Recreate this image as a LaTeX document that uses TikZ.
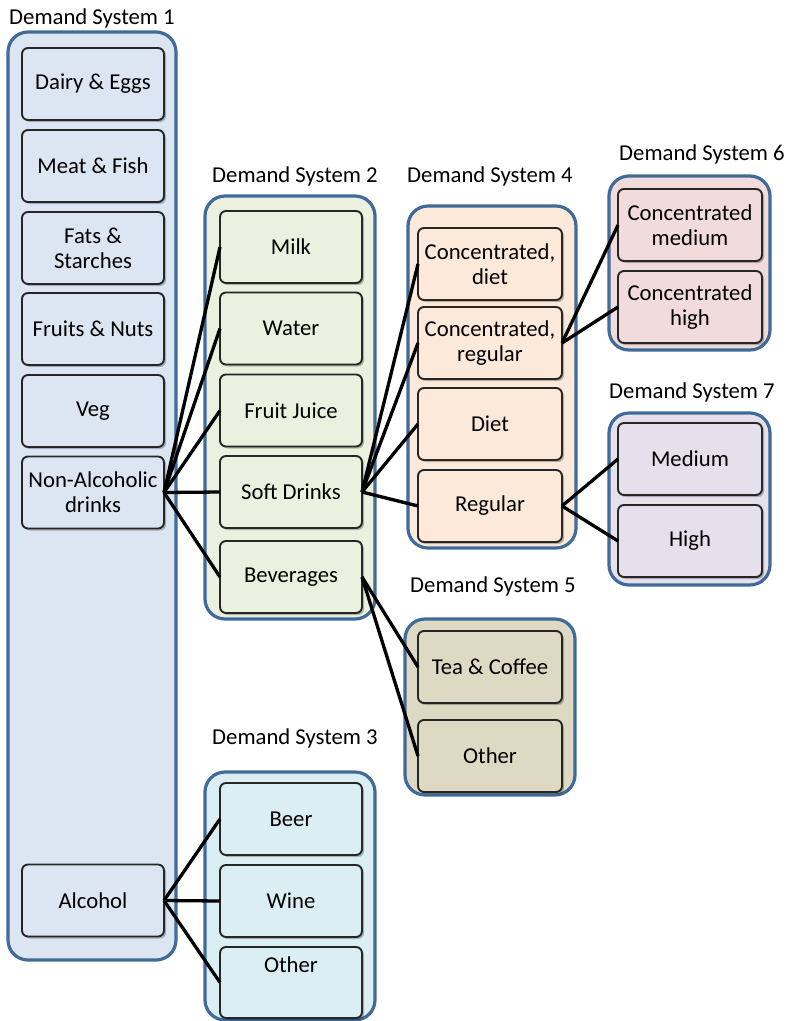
\documentclass[tikz,border=0pt]{standalone}
\usepackage{fontspec}
\setmainfont{Carlito}
\usetikzlibrary{shadows}
\definecolor{cborder}{HTML}{3F6A9A}
\definecolor{fone}{HTML}{DCE6F2}
\definecolor{ftwo}{HTML}{EBF1DE}
\definecolor{fthree}{HTML}{DBEEF4}
\definecolor{ffour}{HTML}{FDE9D9}
\definecolor{ffive}{HTML}{DDD9C3}
\definecolor{fsix}{HTML}{F2DCDB}
\definecolor{fseven}{HTML}{E6E0EC}
\tikzset{
  container/.style={draw=cborder, line width=3.2pt, rounded corners=20pt, inner sep=0pt, outer sep=0pt},
  itembox/.style={draw=black!85, line width=1.9pt, rounded corners=6pt, inner sep=0pt, outer sep=0pt,
    minimum width=142pt, minimum height=72pt, align=center,
    font=\fontsize{22.7}{25}\selectfont,
    drop shadow={shadow xshift=2pt, shadow yshift=-2pt, fill=black, opacity=0.25}},
  syslabel/.style={font=\fontsize{22.7}{25}\selectfont, inner sep=0pt},
  conn/.style={line width=3.3pt, black},
  plaintext/.style={font=\fontsize{22.7}{25}\selectfont, inner sep=0pt}
}
\begin{document}
\begin{tikzpicture}[x=1pt, y=-1pt]
\useasboundingbox (0,0) rectangle (787,1021);
\clip (0,0) rectangle (787,1021);
% containers
\node (c1) [container, fill=fone, minimum width=168pt, minimum height=928pt] at (92,496) {};
\node (c2) [container, fill=ftwo, minimum width=170pt, minimum height=423pt] at (290,407.5) {};
\node (c3) [container, fill=fthree, minimum width=170pt, minimum height=248pt] at (290,896) {};
\node (c4) [container, fill=ffour, minimum width=168pt, minimum height=342pt] at (492,377) {};
\node (c5) [container, fill=ffive, minimum width=170pt, minimum height=176pt] at (490,707) {};
\node (c6) [container, fill=fsix, minimum width=161pt, minimum height=174pt] at (689.5,263) {};
\node (c7) [container, fill=fseven, minimum width=161pt, minimum height=172pt] at (689.5,499) {};
% labels
\node (l1) [syslabel] at (92,18) {Demand System 1};
\node (l2) [syslabel] at (295,176) {Demand System 2};
\node (l3) [syslabel] at (295,738) {Demand System 3};
\node (l4) [syslabel] at (490,176) {Demand System 4};
\node (l5) [syslabel] at (493,586) {Demand System 5};
\node (l6) [syslabel] at (702,154) {Demand System 6};
\node (l7) [syslabel] at (692,392) {Demand System 7};
% DS1
\node (dairy) [itembox, fill=fone] at (93,84) {Dairy \& Eggs};
\node (meat) [itembox, fill=fone] at (93,166) {Meat \& Fish};
\node (fats) [itembox, fill=fone] at (93,248) {Fats \&\\Starches};
\node (fruits) [itembox, fill=fone] at (93,329) {Fruits \& Nuts};
\node (veg) [itembox, fill=fone] at (93,411) {Veg};
\node (nad) [itembox, fill=fone] at (93,492.5) {Non-Alcoholic\\drinks};
\node (alc) [itembox, fill=fone] at (93,900.5) {Alcohol};
% DS2
\node (milk) [itembox, fill=ftwo] at (291,247) {Milk};
\node (water) [itembox, fill=ftwo] at (291,328.5) {Water};
\node (juice) [itembox, fill=ftwo] at (291,410.5) {Fruit Juice};
\node (soft) [itembox, fill=ftwo] at (291,492) {Soft Drinks};
\node (bev) [itembox, fill=ftwo] at (291,577) {Beverages};
% DS3
\node (beer) [itembox, fill=fthree] at (291,819) {Beer};
\node (wine) [itembox, fill=fthree] at (291,901) {Wine};
\node (oth3) [itembox, fill=fthree, minimum height=71pt] at (291,982.5) {};
\node (oth3t) [plaintext] at (291,965) {Other};
% DS4
\node (cdiet) [itembox, fill=ffour, minimum width=144pt] at (490,264) {Concentrated,\\diet};
\node (creg) [itembox, fill=ffour, minimum width=144pt] at (490,343) {Concentrated,\\regular};
\node (diet) [itembox, fill=ffour, minimum width=144pt] at (490,424) {Diet};
\node (reg) [itembox, fill=ffour, minimum width=144pt] at (490,506) {Regular};
% DS5
\node (tea) [itembox, fill=ffive, minimum width=144pt] at (490,667) {Tea \& Coffee};
\node (oth5) [itembox, fill=ffive, minimum width=144pt] at (490,756) {Other};
% DS6
\node (cmed) [itembox, fill=fsix, minimum width=144pt] at (690,225) {Concentrated\\medium};
\node (chigh) [itembox, fill=fsix, minimum width=144pt] at (690,307) {Concentrated\\high};
% DS7
\node (med) [itembox, fill=fseven, minimum width=144pt] at (690,459) {Medium};
\node (high) [itembox, fill=fseven, minimum width=144pt] at (690,541) {High};
% connectors
\foreach \t in {milk,water,juice,soft,bev} \draw[conn] (nad.east) -- (\t.west);
\foreach \t in {cdiet,creg,diet,reg} \draw[conn] (soft.east) -- (\t.west);
\foreach \t in {cmed,chigh} \draw[conn] (creg.east) -- (\t.west);
\foreach \t in {med,high} \draw[conn] (reg.east) -- (\t.west);
\foreach \t in {tea,oth5} \draw[conn] (bev.east) -- (\t.west);
\foreach \t in {beer,wine,oth3} \draw[conn] (alc.east) -- (\t.west);
\end{tikzpicture}
\end{document}
